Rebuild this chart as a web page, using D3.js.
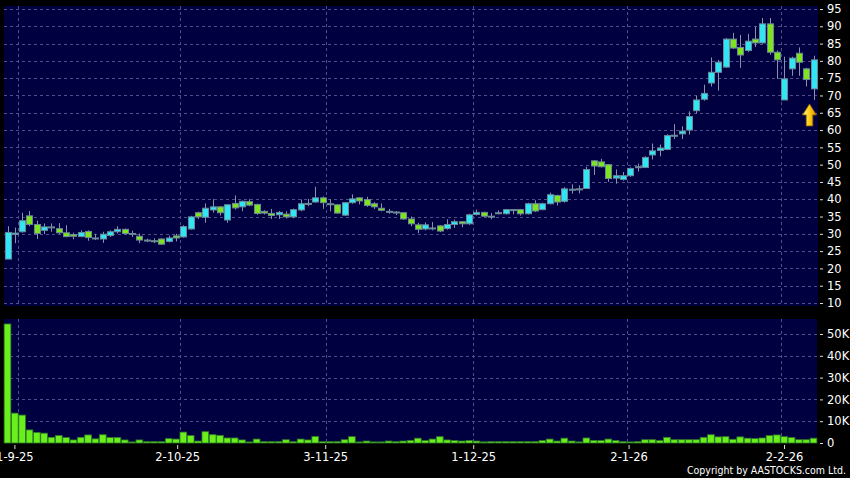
<!DOCTYPE html>
<html>
<head>
<meta charset="utf-8">
<script src="https://cdn.jsdelivr.net/npm/d3@7/dist/d3.min.js"></script>
<style>
body { margin: 0; background: #000; }
svg { display: block; }
</style>
</head>
<body>
<div class="stock_chart"></div>
<script>
// daily candles, 29-8-25 .. 9-2-26
const opens  = [22.7,29.8,30.6,35.2,32.7,31.0,31.9,31.5,30.3,29.8,29.2,30.7,28.8,28.5,29.5,30.6,31.3,30.1,29.3,28.2,
                28.0,28.5,27.8,29.4,29.1,31.4,36.1,34.8,36.9,37.8,34.0,38.8,37.8,39.3,38.5,36.5,35.9,35.5,35.7,34.9,
                36.9,38.8,39.2,40.4,38.7,38.4,35.4,39.0,40.4,39.9,38.7,37.4,36.5,36.3,36.1,34.3,32.6,31.4,31.7,32.3,
                31.5,32.7,33.5,32.9,35.6,36.2,35.1,36.0,35.8,37.0,37.0,35.8,38.7,37.0,38.7,41.1,39.4,42.9,43.0,43.1,
                51.1,50.8,50.0,46.1,45.7,46.8,49.3,49.2,52.8,54.1,54.4,58.4,58.9,60.0,65.6,68.9,73.6,76.7,78.2,86.3,
                83.9,83.0,86.3,85.2,90.7,82.5,68.7,77.7,82.2,77.7,71.9];
const highs  = [32.2,31.8,36.1,36.6,33.8,33.0,33.0,33.1,32.5,30.3,31.0,31.0,30.0,30.6,31.0,32.2,31.5,30.9,30.1,28.6,
                28.7,28.7,29.5,30.0,32.5,35.2,36.4,38.8,40.0,38.0,38.6,41.1,39.6,40.0,38.7,36.8,37.2,36.6,36.5,37.3,
                39.9,40.1,43.6,40.8,40.0,38.5,39.2,41.4,40.5,40.7,39.2,38.8,37.2,36.6,36.3,35.0,33.2,33.3,33.4,32.5,
                34.2,34.1,33.7,35.8,37.0,36.4,36.0,36.8,37.2,37.1,37.2,39.0,39.7,39.0,41.9,41.3,43.5,44.3,44.0,49.4,
                51.3,51.7,50.2,48.6,47.9,49.2,50.3,52.4,56.1,55.8,58.8,61.7,61.1,65.4,69.9,73.1,81.0,80.3,86.6,88.1,
                87.5,87.8,89.9,92.4,92.4,83.0,81.2,81.2,83.9,78.0,81.5];
const lows   = [22.7,27.3,30.3,32.2,28.5,29.9,30.6,30.0,29.0,28.4,29.0,28.0,28.2,27.4,29.1,30.1,29.8,29.1,27.3,27.6,
                27.3,26.9,27.5,27.8,28.9,31.2,34.3,33.2,36.1,35.3,33.2,37.0,36.5,38.0,35.5,35.6,34.3,34.3,34.4,34.5,
                36.5,38.0,39.0,37.2,36.5,35.8,35.2,38.7,38.5,37.8,37.2,36.5,35.8,35.4,34.0,32.2,30.2,31.0,31.0,30.5,
                31.2,31.7,31.9,32.6,35.3,34.8,34.2,35.6,35.6,35.6,35.3,35.6,36.3,36.8,38.5,38.2,39.0,41.6,41.7,43.0,
                47.0,49.2,45.0,44.5,45.4,46.5,48.0,49.0,51.5,52.4,54.2,57.4,57.4,58.7,64.8,68.5,72.6,71.4,78.0,83.5,
                78.0,82.5,84.0,85.0,81.8,74.8,68.7,75.7,75.7,72.6,68.7];
const closes = [30.4,30.2,33.8,32.7,30.1,32.0,32.0,30.3,29.2,29.3,30.4,28.9,28.8,29.9,30.6,31.3,30.1,30.1,28.2,28.1,
                27.9,27.0,28.8,28.8,32.1,34.9,34.9,37.4,37.8,36.1,38.4,37.5,39.4,38.3,35.9,36.0,35.3,36.2,34.9,37.0,
                38.7,38.8,40.4,39.0,38.6,36.0,39.0,40.1,39.5,38.2,37.8,36.8,36.4,36.2,34.3,32.9,31.3,32.6,31.7,30.8,
                32.7,33.5,32.9,35.5,36.2,35.1,35.1,36.1,37.0,36.9,35.8,38.7,36.6,38.7,41.3,39.2,43.0,42.9,42.9,48.6,
                49.6,49.4,46.0,46.8,46.8,48.9,49.4,52.1,54.0,54.8,58.4,58.5,59.7,63.9,68.7,70.6,76.7,79.6,86.3,83.7,
                81.7,85.7,85.2,90.7,82.5,80.3,74.8,80.8,79.6,74.6,80.3];
// volume in thousands
const volumes = [54.6,13.7,12.8,6.0,4.8,4.5,2.6,3.4,2.5,1.4,2.6,3.7,1.9,3.8,2.5,2.5,1.4,0.5,1.4,0.6,
                 0.6,0.6,2.0,1.8,5.0,3.4,0.9,5.2,3.8,3.5,2.3,2.3,1.4,0.5,1.8,0.6,0.6,0.6,1.5,0.6,
                 1.8,1.4,3.0,0.6,0.6,0.6,1.5,2.9,0.5,0.9,0.5,0.5,0.9,0.6,0.9,1.2,2.2,1.1,1.8,2.9,
                 1.4,1.1,0.9,1.1,0.9,0.5,0.6,0.6,0.6,0.6,0.6,0.6,0.6,1.1,1.8,0.9,2.2,0.9,0.5,2.3,
                 1.2,1.1,1.8,1.1,0.6,0.5,0.6,1.5,1.5,1.1,2.6,1.5,1.5,1.5,1.5,2.6,3.8,2.8,2.9,1.7,
                 2.8,2.2,2.0,2.3,3.4,3.7,2.9,2.5,1.5,1.5,2.2];

const dateIndex  = [1, 23, 43, 63, 84, 105];
const dateLabels = ["1-9-25", "2-10-25", "3-11-25", "1-12-25", "2-1-26", "2-2-26"];
const priceTicks = d3.range(10, 96, 5);
const volTicks   = [0, 10, 20, 30, 40, 50];

const WIDTH = 850, HEIGHT = 478;
const P = {left: 4, right: 818, top: 6, bottom: 306};
const V = {left: 4, right: 817, top: 319, bottom: 443};
const BG = "#000040", GRID = "#4e4e88";
const UP = "#2fe6f2", DOWN = "#7ee41e";

const n = closes.length;
const candles = d3.range(n).map(i => ({i: i, o: opens[i], h: highs[i], l: lows[i], c: closes[i], v: volumes[i]}));

const svg = d3.select(".stock_chart")
	.append("svg")
	.attr("width", WIDTH)
	.attr("height", HEIGHT)
	.style("font-family", "'DejaVu Sans', Verdana, sans-serif");

svg.append("rect").attr("width", WIDTH).attr("height", HEIGHT).attr("fill", "#000");

const xScale = d3.scaleLinear().domain([0, n - 1]).range([7.5, 813.5]);
// the date labels run on a slightly wider step than the candles
const xLabel = d3.scaleLinear().domain([0, n - 1]).range([7, 821]);
const yPrice = d3.scaleLinear().domain([10, 95]).range([303, 9]);
const yVol = d3.scaleLinear().domain([0, 50]).range([V.bottom, 334]);

// panels
svg.append("rect").attr("x", P.left).attr("y", P.top)
	.attr("width", P.right - P.left).attr("height", P.bottom - P.top).attr("fill", BG);
svg.append("rect").attr("x", V.left).attr("y", V.top)
	.attr("width", V.right - V.left).attr("height", V.bottom - V.top).attr("fill", BG);

// grid
const grid = svg.append("g")
	.attr("stroke", GRID)
	.attr("stroke-dasharray", "3,3")
	.attr("stroke-width", 1);

grid.selectAll(".hp").data(priceTicks).enter().append("line")
	.attr("x1", P.left).attr("x2", P.right)
	.attr("y1", d => Math.round(yPrice(d)) + 0.5)
	.attr("y2", d => Math.round(yPrice(d)) + 0.5);

grid.selectAll(".hv").data(volTicks.slice(1)).enter().append("line")
	.attr("x1", V.left).attr("x2", V.right)
	.attr("y1", d => Math.round(yVol(d)) + 0.5)
	.attr("y2", d => Math.round(yVol(d)) + 0.5);

dateIndex.forEach(i => {
	let gx = Math.round(xScale(i + 0.5)) + 0.5;
	grid.append("line").attr("x1", gx).attr("x2", gx).attr("y1", P.top).attr("y2", P.bottom);
	grid.append("line").attr("x1", gx).attr("x2", gx).attr("y1", V.top).attr("y2", V.bottom);
});

// volume bars
const bw = xScale(1) - xScale(0);
svg.append("g").selectAll(".vol")
	.data(candles).enter()
	.append("rect")
	.attr("class", "vol")
	.attr("x", d => xScale(d.i) - bw / 2 + 0.3)
	.attr("width", bw - 0.6)
	.attr("y", d => yVol(d.v))
	.attr("height", d => V.bottom - yVol(d.v))
	.attr("fill", "#6aee1c")
	.attr("stroke", "#2f7a2a")
	.attr("stroke-width", 0.8);

// candles
const cg = svg.append("g").selectAll(".candle")
	.data(candles).enter()
	.append("g")
	.attr("class", "candle");

cg.append("line")
	.attr("x1", d => Math.round(xScale(d.i)) + 0.5)
	.attr("x2", d => Math.round(xScale(d.i)) + 0.5)
	.attr("y1", d => yPrice(d.h))
	.attr("y2", d => yPrice(d.l))
	.attr("stroke", "#8a92a8")
	.attr("stroke-width", 1);

cg.append("rect")
	.attr("x", d => Math.round(xScale(d.i)) - 2.5)
	.attr("width", 6)
	.attr("y", d => yPrice(Math.max(d.o, d.c)))
	.attr("height", d => Math.max(1, Math.abs(yPrice(d.o) - yPrice(d.c))))
	.attr("fill", d => d.c >= d.o ? UP : DOWN)
	.attr("stroke", "#6a8898")
	.attr("stroke-width", 1);

// axes
const priceAxis = svg.append("g")
	.attr("transform", "translate(820,0)")
	.call(d3.axisRight(yPrice).tickValues(priceTicks).tickSize(3).tickPadding(4));

const volAxis = svg.append("g")
	.attr("transform", "translate(820,0)")
	.call(d3.axisRight(yVol).tickValues(volTicks).tickSize(3).tickPadding(4)
		.tickFormat(d => d === 0 ? "0" : d + "K"));

const dateAxis = svg.append("g")
	.attr("transform", "translate(0," + (V.bottom + 2) + ")")
	.call(d3.axisBottom(xLabel).tickValues(dateIndex).tickSize(4).tickPadding(4)
		.tickFormat((d, k) => dateLabels[k]));

[priceAxis, volAxis, dateAxis].forEach(a => {
	a.select(".domain").remove();
	a.selectAll("line").attr("stroke", "#ddd");
	a.selectAll("text")
	 .attr("fill", "#fff")
	 .style("font-family", "'DejaVu Sans', Verdana, sans-serif")
	 .style("font-size", "11.5px");
});

svg.append("text")
	.text("Copyright by AASTOCKS.com Ltd.")
	.attr("x", 846)
	.attr("y", 473.5)
	.attr("text-anchor", "end")
	.attr("fill", "#fff")
	.style("font-size", "11px")
	.attr("textLength", 159)
	.attr("lengthAdjust", "spacingAndGlyphs");

// arrow under the last candle
const defs = svg.append("defs");
const grad = defs.append("linearGradient").attr("id", "gold").attr("x1", 0).attr("x2", 1);
grad.append("stop").attr("offset", "0%").attr("stop-color", "#fff59a");
grad.append("stop").attr("offset", "45%").attr("stop-color", "#ffd21a");
grad.append("stop").attr("offset", "100%").attr("stop-color", "#d88c00");

const last = candles[n - 1];
const ax = xScale(last.i) - 4, ay = yPrice(last.l) + 4;
svg.append("path")
	.attr("d", "M0,0 L7,11 L3.3,11 L3.3,22 L-3.3,22 L-3.3,11 L-7,11 Z")
	.attr("transform", "translate(" + ax + "," + ay + ")")
	.attr("fill", "url(#gold)")
	.attr("stroke", "#8a5c00")
	.attr("stroke-width", 0.8);
</script>
</body>
</html>
